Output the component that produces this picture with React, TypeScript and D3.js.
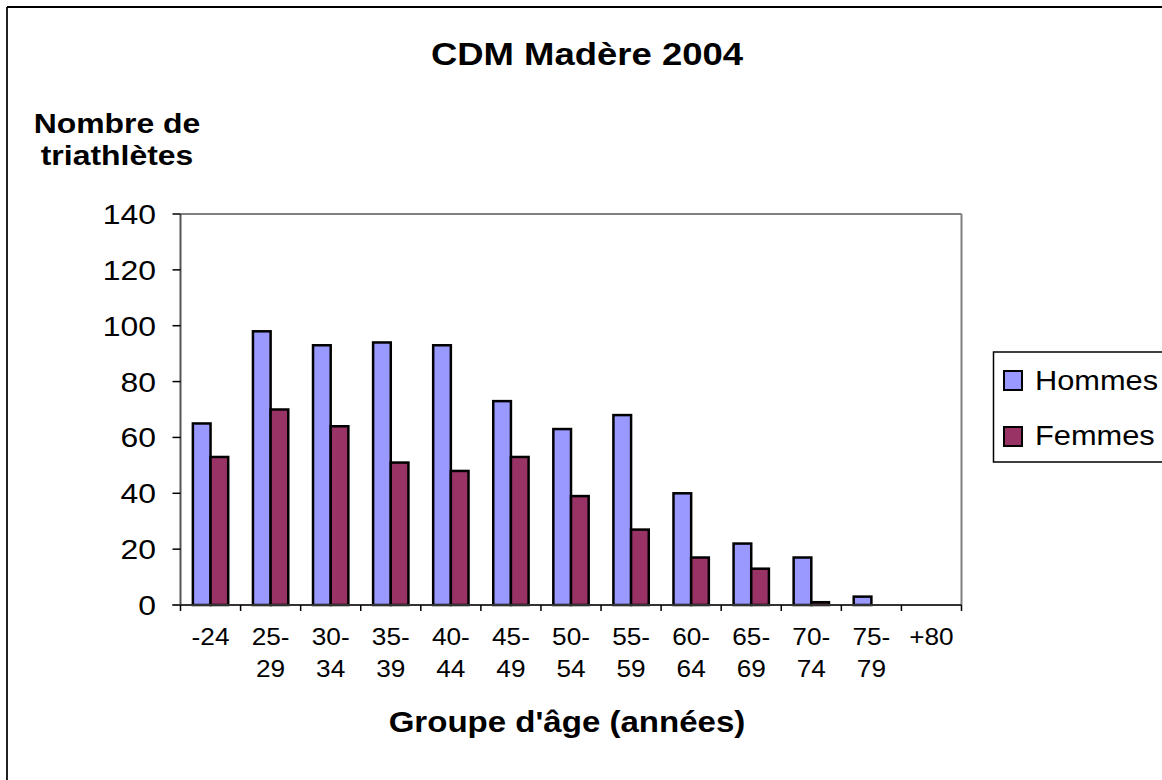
import * as d3 from "d3"

const categories = ["-24", "25-29", "30-34", "35-39", "40-44", "45-49", "50-54", "55-59", "60-64", "65-69", "70-74", "75-79", "+80"]
const tickLines = [["-24"], ["25-", "29"], ["30-", "34"], ["35-", "39"], ["40-", "44"], ["45-", "49"], ["50-", "54"], ["55-", "59"], ["60-", "64"], ["65-", "69"], ["70-", "74"], ["75-", "79"], ["+80"]]
const hommes = [65, 98, 93, 94, 93, 73, 63, 68, 40, 22, 17, 3, 0]
const femmes = [53, 70, 64, 51, 48, 53, 39, 27, 17, 13, 1, 0, 0]
const seriesNames = ["Hommes", "Femmes"]
const seriesColors = ["#9999FF", "#993366"]
const yTicks = [0, 20, 40, 60, 80, 100, 120, 140]

const W = 1162
const H = 780
const SX = 1.14 // the source picture is a little stretched horizontally
const FONT = "'Liberation Sans', Arial, sans-serif"

const T = ({ x, y, size, anchor = "middle", bold = false, children }: any) => (
    <text
        transform={`translate(${x},${y}) scale(${SX},1)`}
        textAnchor={anchor}
        fontSize={size}
        fontWeight={bold ? "bold" : "normal"}
        fontFamily={FONT}
        fill="#000"
    >
        {children}
    </text>
)

export default function App() {
    const left = 180.5, right = 961.5, top = 214, bottom = 605

    const x = d3.scaleBand<string>().domain(categories).range([left, right]).padding(0)
    const xs = d3.scaleBand<string>().domain(seriesNames).range([0, x.bandwidth()]).paddingInner(0).paddingOuter(0.7)
    const y = d3.scaleLinear().domain([0, 140]).range([bottom, top])

    const values = [hommes, femmes]

    return (
        <svg width={W} height={H} style={{ position: "absolute", left: 0, top: 0, background: "#fff" }}>
            {/* outer frame, cropped on right and bottom */}
            <line x1={7} y1={7} x2={7} y2={H} stroke="#222" strokeWidth={2} />
            <line x1={7} y1={7} x2={W} y2={7} stroke="#000" strokeWidth={2} />

            <T x={587} y={65} size={32} bold>CDM Madère 2004</T>
            <T x={117} y={133} size={28} bold>Nombre de</T>
            <T x={117} y={165} size={28} bold>triathlètes</T>
            <T x={567} y={732} size={29} bold>Groupe d'âge (années)</T>

            {/* plot frame */}
            <line x1={left} y1={top} x2={right} y2={top} stroke="#808080" strokeWidth={2} />
            <line x1={right} y1={top} x2={right} y2={bottom} stroke="#808080" strokeWidth={2} />

            {/* bars */}
            {categories.map((c, i) => (
                <g key={c}>
                    {seriesNames.map((s, k) => {
                        const v = values[k][i]
                        if (v <= 0) return null
                        return (
                            <rect
                                key={s}
                                x={(x(c) as number) + (xs(s) as number)}
                                y={y(v)}
                                width={xs.bandwidth()}
                                height={bottom - y(v)}
                                fill={seriesColors[k]}
                                stroke="#000"
                                strokeWidth={2.5}
                            />
                        )
                    })}
                </g>
            ))}

            {/* y axis */}
            <line x1={left} y1={top} x2={left} y2={bottom} stroke="#555" strokeWidth={2} />
            {yTicks.map((t) => (
                <g key={t}>
                    <line x1={left - 8} y1={y(t)} x2={left} y2={y(t)} stroke="#000" strokeWidth={1.5} />
                    <T x={156} y={y(t) + 10} size={28} anchor="end">{t}</T>
                </g>
            ))}

            {/* x axis */}
            <line x1={left - 8} y1={bottom} x2={right} y2={bottom} stroke="#333" strokeWidth={2} />
            {[...categories.map((c) => x(c) as number), right].map((p, i) => (
                <line key={i} x1={p} y1={bottom} x2={p} y2={bottom + 6} stroke="#000" strokeWidth={1.5} />
            ))}
            {categories.map((c, i) => (
                <g key={c}>
                    {tickLines[i].map((l, j) => (
                        <T key={j} x={(x(c) as number) + x.bandwidth() / 2} y={645 + j * 32} size={23}>{l}</T>
                    ))}
                </g>
            ))}

            {/* legend */}
            <rect x={993.5} y={352} width={200} height={110} fill="#fff" stroke="#000" strokeWidth={1.5} />
            {seriesNames.map((s, k) => (
                <g key={s}>
                    <rect x={1004} y={371 + k * 56} width={18} height={19} fill={seriesColors[k]} stroke="#000" strokeWidth={2} />
                    <T x={1035} y={390 + k * 55} size={27} anchor="start">{s}</T>
                </g>
            ))}
        </svg>
    )
}
